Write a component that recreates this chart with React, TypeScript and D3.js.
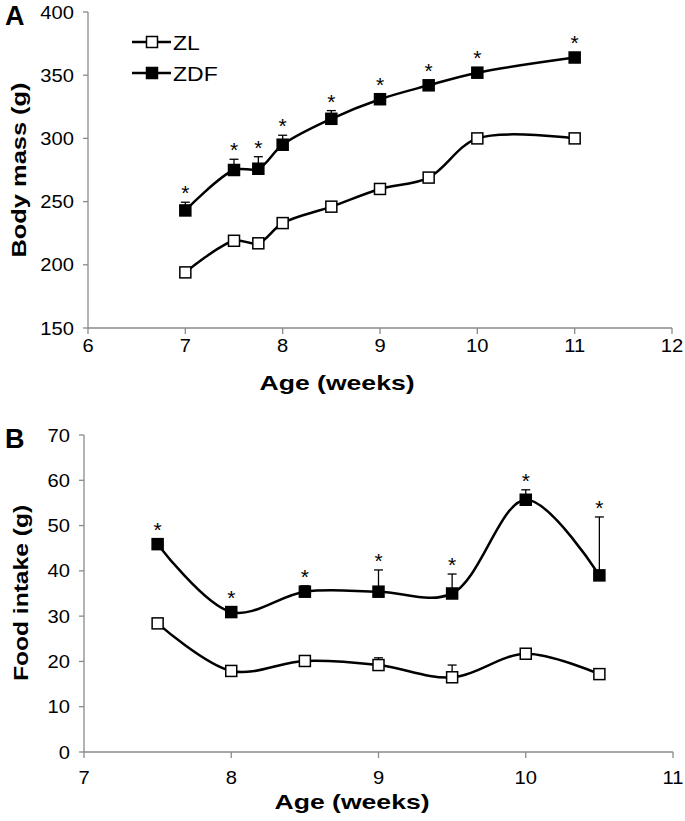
import React from "react";
import * as d3 from "d3";

// ---------- Data ----------
const seriesNames = ["ZL", "ZDF"];

// Panel A: body mass
const weeksA = [7, 7.5, 7.75, 8, 8.5, 9, 9.5, 10, 11];
const zlMass = [194, 219, 217, 233, 246, 260, 269, 300, 300];
const zlMassErr = [1, 1, 1, 1, 1, 1, 1, 1, 1];
const zdfMass = [243, 275, 276, 295, 315.5, 331, 342, 352, 364];
const zdfMassErr = [6.5, 8.5, 9.5, 7.5, 6.5, 3, 2, 1.5, 1.5];
const massTicksY = [150, 200, 250, 300, 350, 400];
const massTicksX = [6, 7, 8, 9, 10, 11, 12];

// Panel B: food intake
const weeksB = [7.5, 8, 8.5, 9, 9.5, 10, 10.5];
const zlFood = [28.4, 17.9, 20.1, 19.2, 16.5, 21.7, 17.2];
const zlFoodErr = [0.5, 0.5, 0.8, 1.6, 2.7, 0.8, 0.5];
const zdfFood = [45.9, 30.9, 35.4, 35.4, 35.0, 55.7, 39.0];
const zdfFoodErr = [0.5, 0.5, 1.3, 4.8, 4.3, 2.2, 12.9];
const foodTicksY = [0, 10, 20, 30, 40, 50, 60, 70];
const foodTicksX = [7, 8, 9, 10, 11];

const FONT = "'Liberation Sans', Arial, Helvetica, sans-serif";
const AXIS = "#8a8a8a";
const MS = 11; // marker size

type TProps = {
  x: number; y: number; sx?: number; rot?: number; size: number; bold?: boolean;
  anchor?: "start" | "middle" | "end"; base?: string; children: React.ReactNode;
};
function T({ x, y, sx = 1.2, rot = 0, size, bold, anchor = "start", base, children }: TProps) {
  return (
    <text
      transform={`translate(${x},${y}) rotate(${rot}) scale(${sx},1)`}
      fontSize={size}
      fontWeight={bold ? "bold" : "normal"}
      textAnchor={anchor}
      dominantBaseline={base as any}
      fontFamily={FONT}
      fill="#000"
    >
      {children}
    </text>
  );
}

type PanelProps = {
  x: d3.ScaleLinear<number, number>;
  y: d3.ScaleLinear<number, number>;
  weeks: number[];
  zl: number[]; zlErr: number[];
  zdf: number[]; zdfErr: number[];
  ticksX: number[]; ticksY: number[];
  xLabelY: number; xTitle: [number, number, number]; yTitle: [number, number, number];
  yTitleText: string; letter: string; letterY: number;
};

function Panel(p: PanelProps) {
  const { x, y, weeks } = p;
  const line = (vals: number[]) =>
    d3.line<number>().x((_, i) => x(weeks[i])).y((v) => y(v)).curve(d3.curveCatmullRom.alpha(0.5))(vals) || "";
  const [x0, x1] = x.range();
  const [y0, y1] = y.range();
  const errBars = (vals: number[], errs: number[]) =>
    vals.map((v, i) => {
      const cx = x(weeks[i]);
      const top = y(v + errs[i]);
      return (
        <g key={i} stroke="#000" strokeWidth={1.3}>
          <line x1={cx} x2={cx} y1={y(v)} y2={top} />
          <line x1={cx - 4.5} x2={cx + 4.5} y1={top} y2={top} />
        </g>
      );
    });
  const markers = (vals: number[], filled: boolean) =>
    vals.map((v, i) => (
      <rect
        key={i}
        x={x(weeks[i]) - MS / 2}
        y={y(v) - MS / 2}
        width={MS}
        height={MS}
        fill={filled ? "#000" : "#fff"}
        stroke="#000"
        strokeWidth={1.5}
      />
    ));
  return (
    <g>
      {/* axes */}
      <line x1={x0} x2={x1} y1={y0} y2={y0} stroke={AXIS} strokeWidth={1.3} />
      <line x1={x0} x2={x0} y1={y0} y2={y1} stroke={AXIS} strokeWidth={1.3} />
      {p.ticksY.map((t) => (
        <g key={"y" + t}>
          <line x1={x0 - 5} x2={x0} y1={y(t)} y2={y(t)} stroke={AXIS} strokeWidth={1.3} />
          <T x={x0 - 14} y={y(t) + 6.5} size={18} anchor="end" sx={1.12}>{t}</T>
        </g>
      ))}
      {p.ticksX.map((t) => (
        <g key={"x" + t}>
          <line x1={x(t)} x2={x(t)} y1={y0} y2={y0 + 6} stroke={AXIS} strokeWidth={1.3} />
          <T x={x(t)} y={p.xLabelY} size={18} anchor="middle" sx={1.12}>{t}</T>
        </g>
      ))}
      <T x={p.xTitle[0]} y={p.xTitle[1]} size={20} bold anchor="middle" sx={p.xTitle[2]}>Age (weeks)</T>
      <T x={p.yTitle[0]} y={p.yTitle[1]} size={20.5} bold anchor="middle" rot={-90} base="central" sx={p.yTitle[2]}>
        {p.yTitleText}
      </T>
      <T x={5} y={p.letterY} size={27} bold sx={1}>{p.letter}</T>
      {/* series */}
      {errBars(p.zl, p.zlErr)}
      {errBars(p.zdf, p.zdfErr)}
      <path d={line(p.zl)} fill="none" stroke="#000" strokeWidth={2.5} />
      <path d={line(p.zdf)} fill="none" stroke="#000" strokeWidth={2.5} />
      {markers(p.zl, false)}
      {markers(p.zdf, true)}
      {p.zdf.map((v, i) => {
        const top = Math.min(y(v + p.zdfErr[i]), y(v) - MS / 2);
        return (
          <T key={"s" + i} x={x(weeks[i])} y={top - 2} size={21} anchor="middle" sx={1}>*</T>
        );
      })}
    </g>
  );
}

export default function App() {
  const xA = d3.scaleLinear().domain([6, 12]).range([88, 672]);
  const yA = d3.scaleLinear().domain([150, 400]).range([328, 12]);
  const xB = d3.scaleLinear().domain([7, 11]).range([84, 673]);
  const yB = d3.scaleLinear().domain([0, 70]).range([752, 435]);
  return (
    <svg
      width={685}
      height={821}
      style={{ position: "absolute", left: 0, top: 0, background: "#fff" }}
    >
      <rect width={685} height={821} fill="#fff" />
      <Panel
        x={xA} y={yA} weeks={weeksA}
        zl={zlMass} zlErr={zlMassErr} zdf={zdfMass} zdfErr={zdfMassErr}
        ticksX={massTicksX} ticksY={massTicksY}
        xLabelY={352} xTitle={[337, 390, 1.33]} yTitle={[19, 170, 1.24]}
        yTitleText="Body mass (g)" letter="A" letterY={25}
      />
      <Panel
        x={xB} y={yB} weeks={weeksB}
        zl={zlFood} zlErr={zlFoodErr} zdf={zdfFood} zdfErr={zdfFoodErr}
        ticksX={foodTicksX} ticksY={foodTicksY}
        xLabelY={784} xTitle={[352, 809, 1.33]} yTitle={[21, 593, 1.2]}
        yTitleText="Food intake (g)" letter="B" letterY={448}
      />
      {/* legend */}
      {seriesNames.map((name, i) => {
        const ly = 42 + i * 31;
        return (
          <g key={name}>
            <line x1={132} x2={171} y1={ly} y2={ly} stroke="#000" strokeWidth={2.5} />
            <rect x={152 - MS / 2} y={ly - MS / 2} width={MS} height={MS}
              fill={i === 1 ? "#000" : "#fff"} stroke="#000" strokeWidth={1.5} />
            <T x={173} y={ly + 7.5} size={20} sx={1.15}>{name}</T>
          </g>
        );
      })}
    </svg>
  );
}
